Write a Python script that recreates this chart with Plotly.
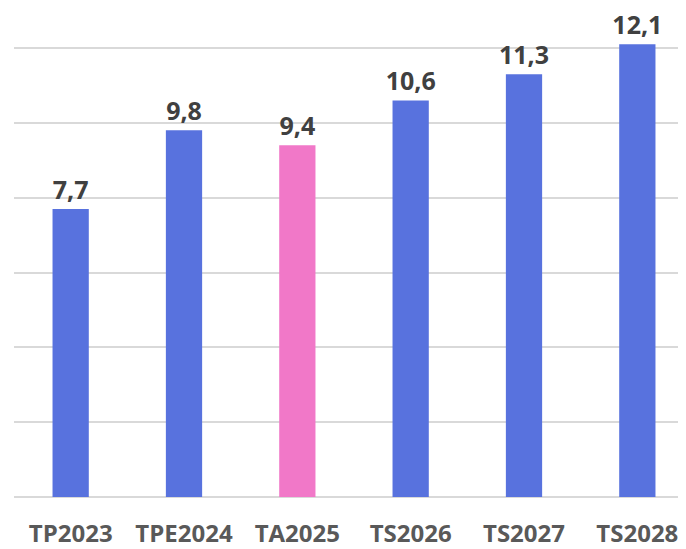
import plotly.graph_objects as go

categories = ["TP2023", "TPE2024", "TA2025", "TS2026", "TS2027", "TS2028"]
values = [7.7, 9.8, 9.4, 10.6, 11.3, 12.1]
labels = ["7,7", "9,8", "9,4", "10,6", "11,3", "12,1"]
colors = ["#5872DE", "#5872DE", "#F178C8", "#5872DE", "#5872DE", "#5872DE"]

fig = go.Figure(go.Bar(
    x=categories, y=values, text=labels, textposition="outside",
    constraintext="none",
    marker=dict(color=colors, line=dict(width=0)),
    textfont=dict(family="Open Sans", size=25, color="#404040", weight="bold"),
    cliponaxis=False,
))
fig.update_layout(
    width=686, height=549,
    margin=dict(l=6, r=0, t=0, b=60),
    plot_bgcolor="white", paper_bgcolor="white",
    bargap=0.68, showlegend=False,
    xaxis=dict(tickfont=dict(family="Open Sans", size=24, color="#595959", weight="bold"),
               showline=False, ticks="", ticklen=0, ticklabelstandoff=20),
    yaxis=dict(range=[0, 13.07], dtick=2, showticklabels=False, gridcolor="#D9D9D9",
               gridwidth=1.5, zeroline=True, zerolinecolor="#D9D9D9", zerolinewidth=1.5),
)
fig.write_html("out.html")
